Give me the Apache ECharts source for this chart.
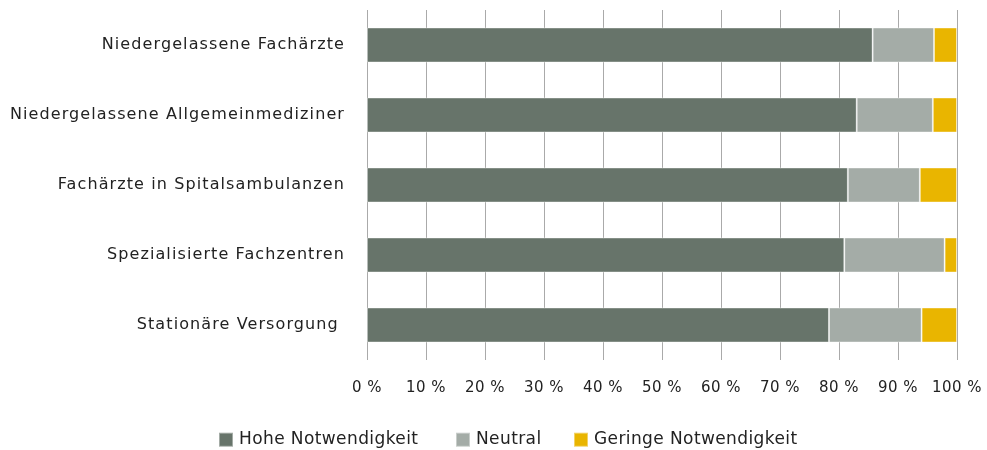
<!DOCTYPE html>
<html>
<head>
<meta charset="utf-8">
<script src="https://cdn.jsdelivr.net/npm/echarts@6/dist/echarts.min.js"></script>
<style>html,body{margin:0;padding:0;background:#fff}#c{width:987px;height:450px}</style>
</head>
<body>
<div id="c"></div>
<script>
const categories = ["Niedergelassene Fachärzte","Niedergelassene Allgemeinmediziner","Fachärzte in Spitalsambulanzen","Spezialisierte Fachzentren","Stationäre Versorgung "];
const seriesNames = ["Hohe Notwendigkeit","Neutral","Geringe Notwendigkeit"];
const hohe = [85.7, 83.0, 81.5, 80.9, 78.3];
const neutral = [10.4, 12.9, 12.2, 17.0, 15.7];
const geringe = [3.9, 4.1, 6.3, 2.1, 6.0];
const colors = ["#67746a","#a4aca7","#e9b500"];

// wider tracking for the sans text, as in the reference
(function(){
  const proto = CanvasRenderingContext2D.prototype;
  const d = Object.getOwnPropertyDescriptor(proto, 'font');
  if (!d || !('letterSpacing' in proto)) return;
  Object.defineProperty(proto, 'font', {
    configurable:true,
    get(){ return d.get.call(this); },
    set(v){
      d.set.call(this, v);
      let ls = '0px';
      if (/\b15px/.test(v)) ls = '0.5px';
      else if (/\b16px/.test(v)) ls = '1.1px';
      else if (/\b17px/.test(v)) ls = '0.4px';
      this.letterSpacing = ls;
    }
  });
})();

const chart = echarts.init(document.getElementById('c'), null, {renderer:'canvas'});
const font = "'DejaVu Sans'";
const data = [hohe, neutral, geringe];
const legendLeft = [218, 455, 573];
chart.setOption({
  animation:false,
  textStyle:{fontFamily:font},
  grid:{left:367, right:30, top:10, bottom:90, containLabel:false},
  legend: seriesNames.map((n,i)=>({
    top:431, left:legendLeft[i], itemWidth:14, itemHeight:14, itemGap:0,
    icon:'rect', padding:0,
    textStyle:{fontSize:17, color:'#222', fontFamily:font, padding:[0,0,0,1]},
    data:[n]
  })),
  xAxis:{
    type:'value', min:0, max:100, interval:10,
    axisLine:{show:false},
    axisTick:{show:false},
    splitLine:{show:true, lineStyle:{color:'#aaaaaa', width:1}},
    axisLabel:{formatter:'{value} %', fontSize:15, color:'#222', margin:20, fontFamily:font}
  },
  yAxis:{
    type:'category', inverse:true, data:categories,
    axisLine:{show:false}, axisTick:{show:false},
    axisLabel:{fontSize:16, color:'#222', margin:22, fontFamily:font}
  },
  series: seriesNames.map((n,i)=>({
    name:n, type:'bar', stack:'total', barWidth:'50%',
    itemStyle:{color:colors[i], borderColor:'rgba(255,255,255,0.4)', borderWidth:1},
    data:data[i]
  }))
});
</script>
</body>
</html>
